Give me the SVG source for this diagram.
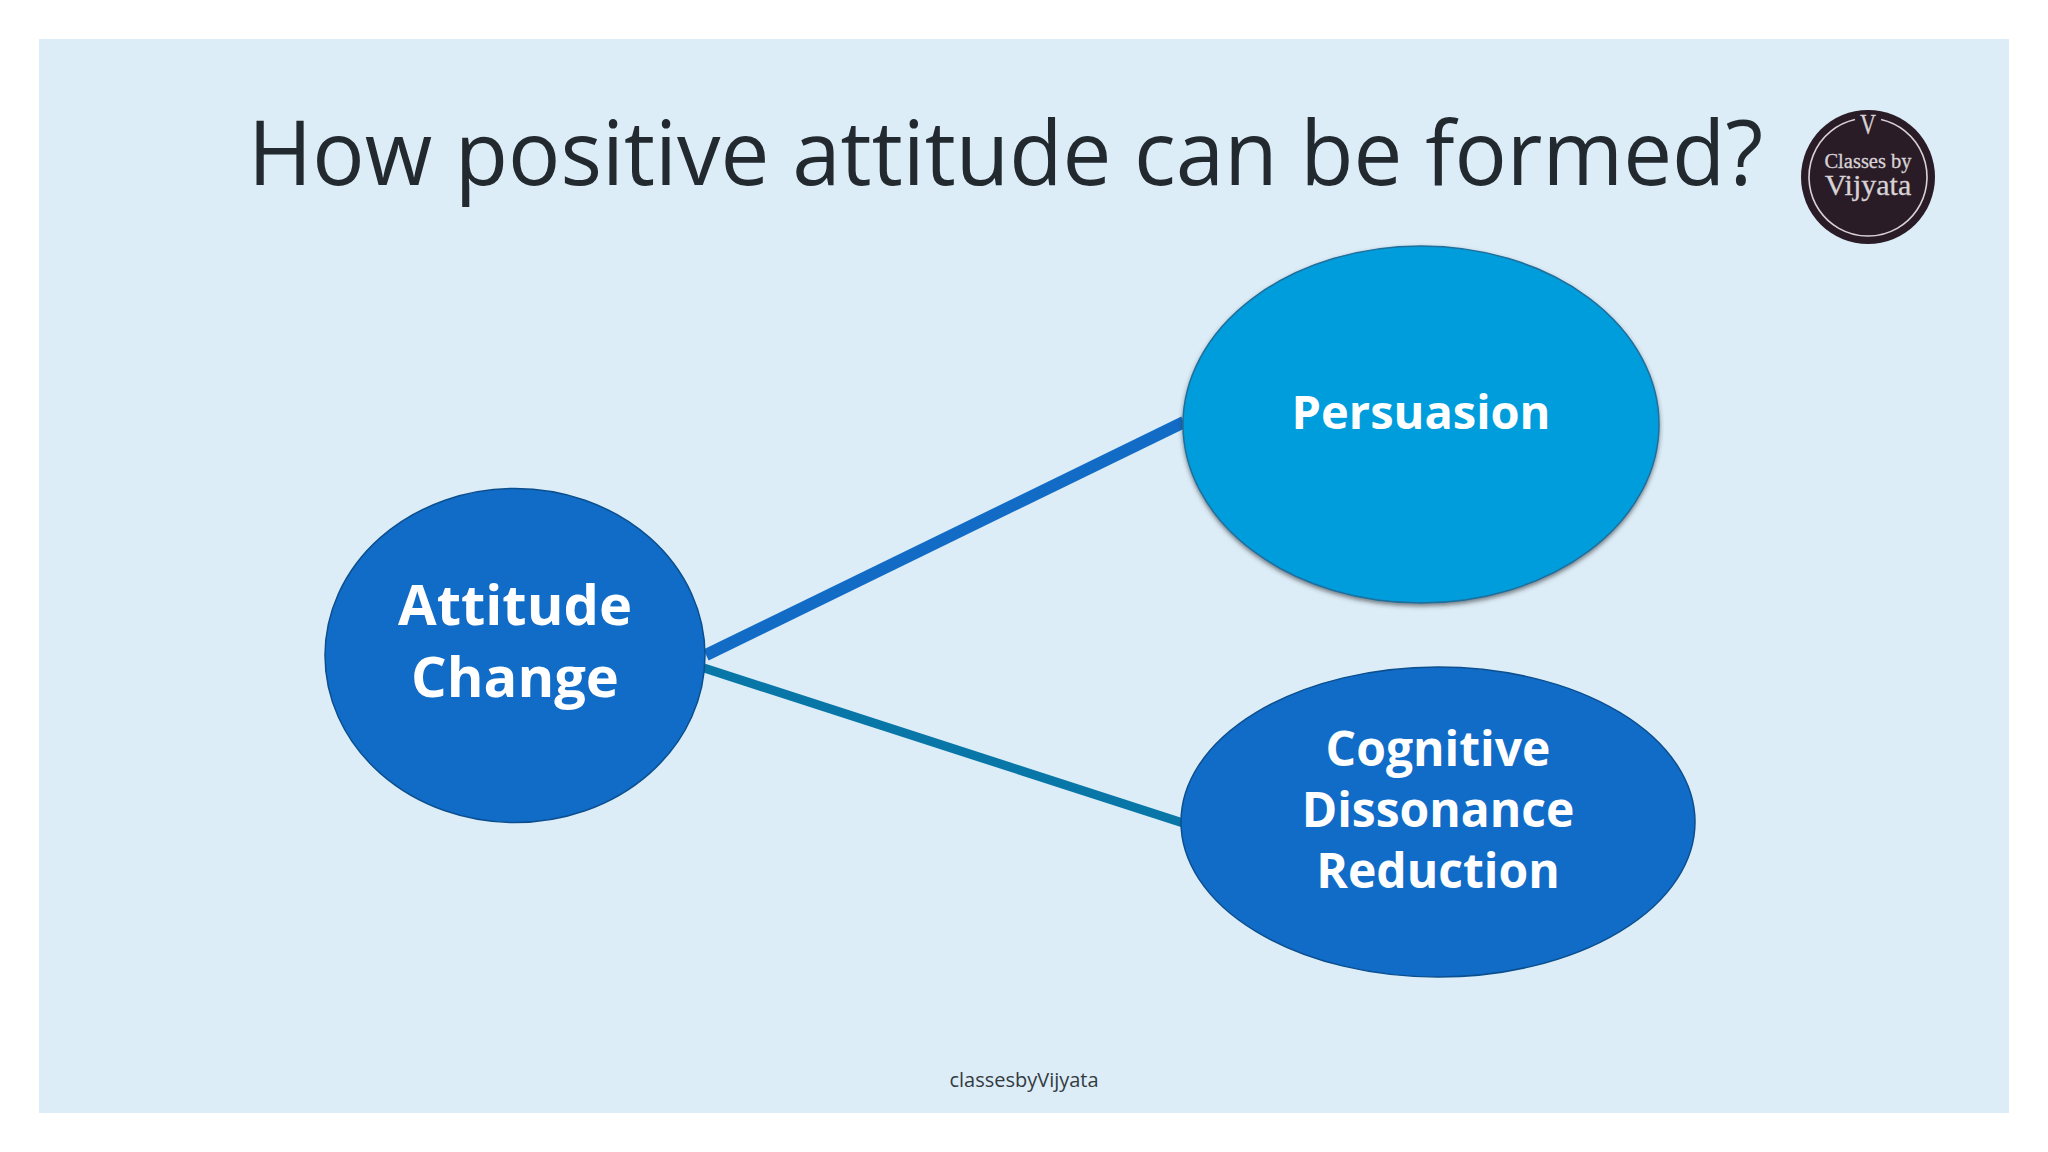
<svg xmlns="http://www.w3.org/2000/svg" width="2048" height="1152" viewBox="0 0 2048 1152">
<defs>
<filter id="soft" x="-5%" y="-5%" width="110%" height="112%"><feDropShadow dx="0" dy="2.5" stdDeviation="2" flood-color="#333" flood-opacity="0.6"/></filter>
<style>
.t{font-family:"Open Sans","Noto Sans","Liberation Sans",sans-serif}
.n{font-weight:700;fill:#fff;text-anchor:middle}
.c{fill:none;stroke-linecap:butt}
.s{font-family:"Liberation Serif",serif;fill:#d8d2d6;text-anchor:middle;stroke:#d8d2d6;stroke-width:.3}
</style>
</defs>
<rect width="2048" height="1152" fill="#fff"/>
<rect x="39" y="39" width="1970" height="1074" fill="#dcedf8"/>
<text class="t" x="248" y="185" font-size="90" fill="#222a30" textLength="1515" lengthAdjust="spacingAndGlyphs">How positive attitude can be formed?</text>
<g id="connectors">
<line class="c" x1="706" y1="655" x2="1184" y2="422" stroke="#126cc6" stroke-width="12"/>
<line class="c" x1="704" y1="668" x2="1183" y2="823" stroke="#0877a8" stroke-width="9"/>
</g>
<g id="attitude-change">
<ellipse cx="515" cy="655.5" rx="190" ry="167" fill="#116cc8" stroke="#0b4f8f" stroke-width="1.5"/>
<text class="t n" x="515" y="625" font-size="56">Attitude</text>
<text class="t n" x="515" y="697" font-size="56">Change</text>
</g>
<g id="persuasion">
<ellipse cx="1421" cy="424.5" rx="238" ry="178.5" fill="#039ddd" stroke="#1f6f9c" stroke-width="1.5" filter="url(#soft)"/>
<text class="t n" x="1421" y="429" font-size="47">Persuasion</text>
</g>
<g id="cognitive-dissonance-reduction">
<ellipse cx="1438" cy="822" rx="257" ry="155" fill="#116cc8" stroke="#0b4f8f" stroke-width="1.5"/>
<text class="t n" x="1438" y="766" font-size="48">Cognitive</text>
<text class="t n" x="1438" y="827" font-size="48">Dissonance</text>
<text class="t n" x="1438" y="888" font-size="48">Reduction</text>
</g>
<g id="logo">
<circle cx="1868" cy="177" r="67" fill="#2a1c26"/>
<path d="M1855 119.5 A59 59 0 1 0 1881 119.5" fill="none" stroke="#d8d2d6" stroke-width="1.6"/>
<text class="s" x="1868" y="168" font-size="20.5">Classes by</text>
<text class="s" x="1868" y="195" font-size="30">Vijyata</text>
<text class="s" x="1868" y="134" font-size="29" textLength="16" lengthAdjust="spacingAndGlyphs">V</text>
</g>
<text class="t" x="1024" y="1087" font-size="20" fill="#333b40" text-anchor="middle">classesbyVijyata</text>
</svg>
